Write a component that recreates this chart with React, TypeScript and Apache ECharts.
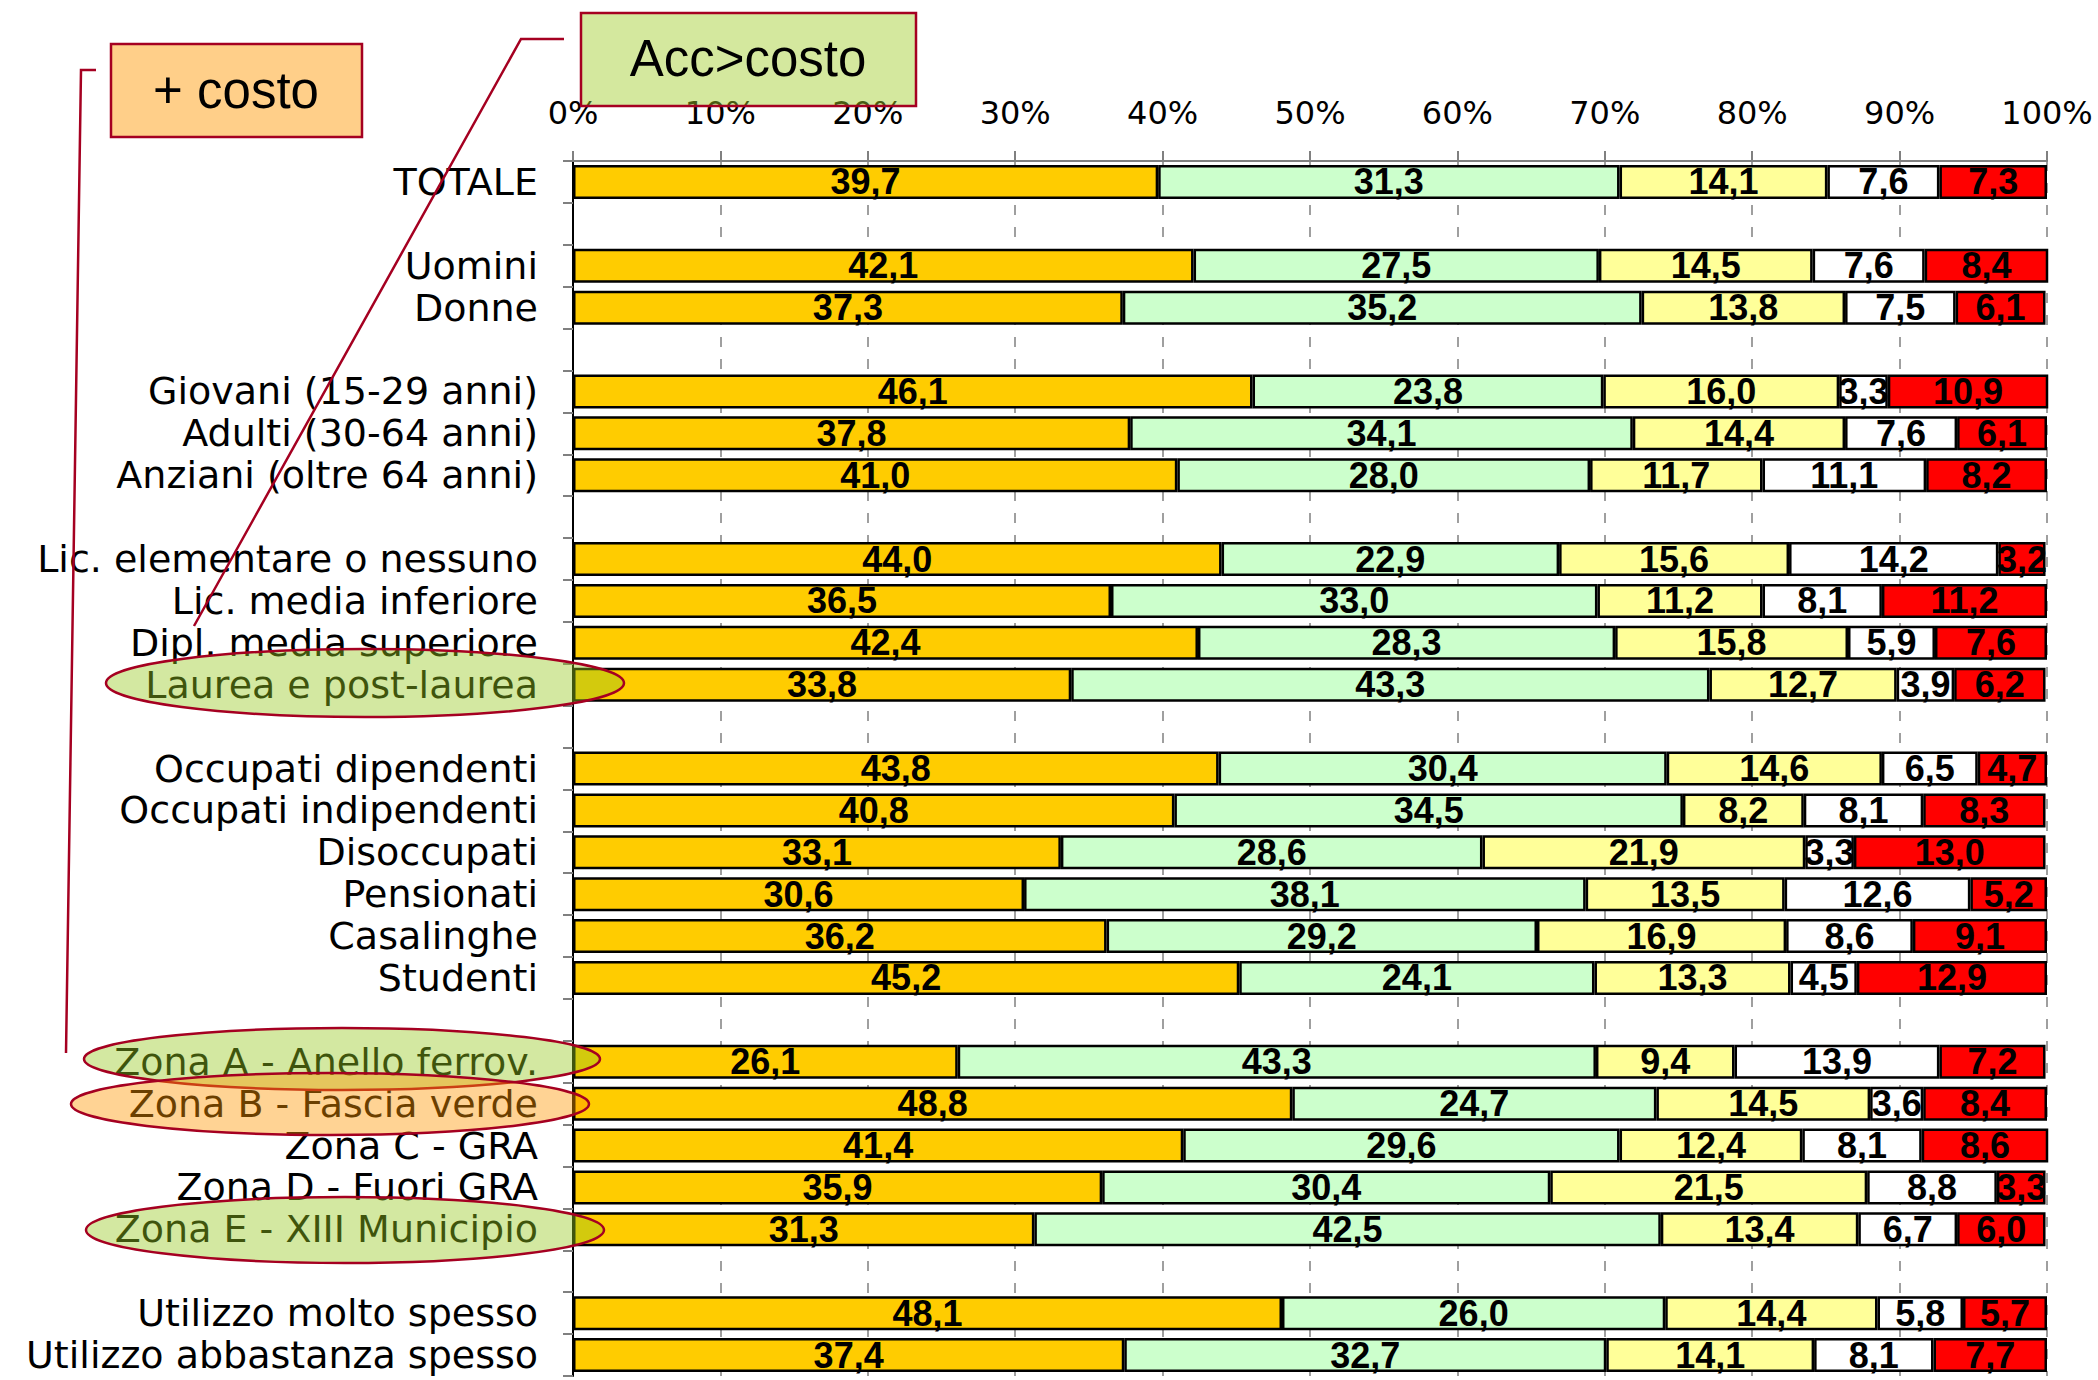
import React, { useEffect, useRef } from 'react';
import * as echarts from 'echarts';

const categories = [
  'TOTALE', ' ', 'Uomini', 'Donne', '  ',
  'Giovani (15-29 anni)', 'Adulti (30-64 anni)', 'Anziani (oltre 64 anni)', '   ',
  'Lic. elementare o nessuno', 'Lic. media inferiore', 'Dipl. media superiore', 'Laurea e post-laurea', '    ',
  'Occupati dipendenti', 'Occupati indipendenti', 'Disoccupati', 'Pensionati', 'Casalinghe', 'Studenti', '     ',
  'Zona A - Anello ferrov.', 'Zona B - Fascia verde', 'Zona C - GRA', 'Zona D - Fuori GRA', 'Zona E - XIII Municipio', '      ',
  'Utilizzo molto spesso', 'Utilizzo abbastanza spesso',
];

const serie1 = [39.7, null, 42.1, 37.3, null, 46.1, 37.8, 41.0, null, 44.0, 36.5, 42.4, 33.8, null, 43.8, 40.8, 33.1, 30.6, 36.2, 45.2, null, 26.1, 48.8, 41.4, 35.9, 31.3, null, 48.1, 37.4];
const serie2 = [31.3, null, 27.5, 35.2, null, 23.8, 34.1, 28.0, null, 22.9, 33.0, 28.3, 43.3, null, 30.4, 34.5, 28.6, 38.1, 29.2, 24.1, null, 43.3, 24.7, 29.6, 30.4, 42.5, null, 26.0, 32.7];
const serie3 = [14.1, null, 14.5, 13.8, null, 16.0, 14.4, 11.7, null, 15.6, 11.2, 15.8, 12.7, null, 14.6, 8.2, 21.9, 13.5, 16.9, 13.3, null, 9.4, 14.5, 12.4, 21.5, 13.4, null, 14.4, 14.1];
const serie4 = [7.6, null, 7.6, 7.5, null, 3.3, 7.6, 11.1, null, 14.2, 8.1, 5.9, 3.9, null, 6.5, 8.1, 3.3, 12.6, 8.6, 4.5, null, 13.9, 3.6, 8.1, 8.8, 6.7, null, 5.8, 8.1];
const serie5 = [7.3, null, 8.4, 6.1, null, 10.9, 6.1, 8.2, null, 3.2, 11.2, 7.6, 6.2, null, 4.7, 8.3, 13.0, 5.2, 9.1, 12.9, null, 7.2, 8.4, 8.6, 3.3, 6.0, null, 5.7, 7.7];

const seriesNames = ['Serie 1', 'Serie 2', 'Serie 3', 'Serie 4', 'Serie 5'];
const seriesColors = ['#FFCC00', '#CCFFCC', '#FFFF99', '#FFFFFF', '#FF0000'];
const axisTicks = [0, 10, 20, 30, 40, 50, 60, 70, 80, 90, 100];

const fmt = (v: number) => v.toFixed(1).replace('.', ',');

const DARKRED = '#A50021';
const GREEN_FILL = 'rgba(150,200,30,0.42)';
const ORANGE_FILL = 'rgba(255,150,0,0.42)';
const BOX_GREEN = 'rgba(160,205,40,0.45)';
const BOX_ORANGE = 'rgba(255,160,20,0.5)';

export default function App() {
  const ref = useRef<HTMLDivElement>(null);
  useEffect(() => {
    if (!ref.current) return;
    const chart = echarts.init(ref.current, null, { renderer: 'svg' });
    const data = [serie1, serie2, serie3, serie4, serie5];
    const option: any = {
      animation: false,
      backgroundColor: '#FFFFFF',
      grid: { left: 573, right: 51, top: 161, bottom: 4, containLabel: false },
      xAxis: {
        type: 'value',
        position: 'top',
        min: axisTicks[0],
        max: axisTicks[axisTicks.length - 1],
        interval: 10,
        axisLabel: {
          formatter: '{value}%',
          fontFamily: 'DejaVu Sans',
          fontSize: 32,
          color: '#000',
          margin: 32,
        },
        axisLine: { show: true, lineStyle: { color: '#808080', width: 2 } },
        axisTick: { show: true, length: 10, lineStyle: { color: '#808080', width: 2 } },
        splitLine: { show: true, lineStyle: { color: '#808080', width: 1.5, type: [10, 12] } },
      },
      yAxis: {
        type: 'category',
        inverse: true,
        data: categories,
        axisLine: { show: true, lineStyle: { color: '#000', width: 2 } },
        axisTick: { show: true, length: 10, lineStyle: { color: '#808080', width: 2 } },
        axisLabel: {
          interval: 0,
          fontFamily: 'DejaVu Sans',
          fontSize: 38,
          color: '#000',
          margin: 35,
        },
        splitLine: { show: false },
      },
      series: data.map((d, i) => ({
        type: 'bar',
        name: seriesNames[i],
        stack: 'tot',
        data: d,
        barWidth: 34,
        itemStyle: { color: seriesColors[i], borderColor: '#000', borderWidth: 2.5 },
        label: {
          show: true,
          position: 'inside',
          formatter: (p: any) => (p.value == null ? '' : fmt(p.value)),
          fontFamily: '"Liberation Sans", Arial, sans-serif',
          fontWeight: 'bold',
          fontSize: 36,
          color: '#000',
          textBorderWidth: 0,
        },
      })),
      graphic: [
        {
          type: 'polyline', z: 100,
          shape: { points: [[96, 70], [81, 70], [66, 1053]] },
          style: { stroke: DARKRED, lineWidth: 2.5, fill: 'none' },
        },
        {
          type: 'polyline', z: 100,
          shape: { points: [[564, 39], [521, 39], [194, 626]] },
          style: { stroke: DARKRED, lineWidth: 2.5, fill: 'none' },
        },
        {
          type: 'rect', z: 100,
          shape: { x: 111, y: 44, width: 251, height: 93 },
          style: { fill: BOX_ORANGE, stroke: DARKRED, lineWidth: 2.5 },
        },
        {
          type: 'text', z: 101,
          style: {
            text: '+ costo', x: 236, y: 90, fill: '#000',
            font: '51px "Liberation Sans", Arial, sans-serif',
            align: 'center', verticalAlign: 'middle',
            textAlign: 'center', textVerticalAlign: 'middle',
          },
        },
        {
          type: 'rect', z: 100,
          shape: { x: 581, y: 13, width: 335, height: 93 },
          style: { fill: BOX_GREEN, stroke: DARKRED, lineWidth: 2.5 },
        },
        {
          type: 'text', z: 101,
          style: {
            text: 'Acc>costo', x: 748, y: 58, fill: '#000',
            font: '51px "Liberation Sans", Arial, sans-serif',
            align: 'center', verticalAlign: 'middle',
            textAlign: 'center', textVerticalAlign: 'middle',
          },
        },
        {
          type: 'ellipse', z: 100,
          shape: { cx: 365, cy: 683, rx: 259, ry: 34 },
          style: { fill: GREEN_FILL, stroke: DARKRED, lineWidth: 2.5 },
        },
        {
          type: 'ellipse', z: 100,
          shape: { cx: 342, cy: 1059, rx: 258, ry: 31 },
          style: { fill: GREEN_FILL, stroke: DARKRED, lineWidth: 2.5 },
        },
        {
          type: 'ellipse', z: 100,
          shape: { cx: 330, cy: 1104, rx: 259, ry: 31 },
          style: { fill: ORANGE_FILL, stroke: DARKRED, lineWidth: 2.5 },
        },
        {
          type: 'ellipse', z: 100,
          shape: { cx: 345, cy: 1230, rx: 259, ry: 33 },
          style: { fill: GREEN_FILL, stroke: DARKRED, lineWidth: 2.5 },
        },
      ],
    };
    chart.setOption(option);
    return () => chart.dispose();
  }, []);
  return (
    <div
      ref={ref}
      style={{ position: 'fixed', left: 0, top: 0, width: 2098, height: 1380 }}
    />
  );
}
